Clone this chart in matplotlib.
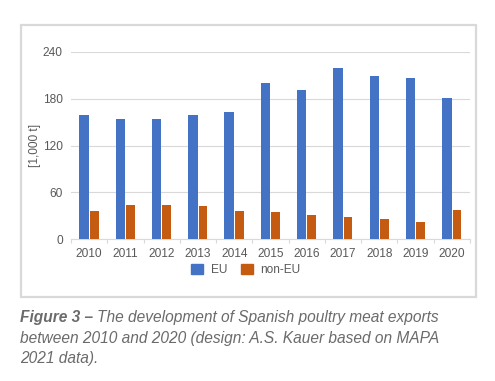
import numpy as np
import matplotlib
matplotlib.use("Agg")
import matplotlib.pyplot as plt
from matplotlib.patches import Rectangle, Patch

plt.rcParams['font.family'] = ['Liberation Sans', 'DejaVu Sans']

# data (1,000 t)
years = ['2010', '2011', '2012', '2013', '2014', '2015', '2016', '2017', '2018', '2019', '2020']
eu = [159, 154, 154, 159, 163, 200, 191, 219, 209, 206, 181]
non_eu = [36, 44, 44, 43, 36, 35, 31, 29, 26, 22, 38]
yticks = [0, 60, 120, 180, 240]

W, H = 495, 381
fig = plt.figure(figsize=(W / 100, H / 100), dpi=100)
fig.patch.set_facecolor('white')

# outer chart frame
frame = Rectangle((21 / W, 1 - 297 / H), (476 - 21) / W, (297 - 25) / H,
                  transform=fig.transFigure, facecolor='none',
                  edgecolor='#d9d9d9', linewidth=1.6, zorder=-1)
fig.patches.append(frame)

ax = fig.add_axes([71 / W, 1 - 239.3 / H, (470 - 71) / W, (239.3 - 51.7) / H])
ax.set_facecolor('none')
ax.set_zorder(2)

x = np.arange(len(years))
ax.bar(x - 0.14, eu, width=0.26, color='#4472C4', label='EU', zorder=3)
ax.bar(x + 0.14, non_eu, width=0.24, color='#C55A11', label='non-EU', zorder=3)

ax.set_xlim(-0.5, len(years) - 0.5)
ax.set_ylim(0, 240)
ax.set_yticks(yticks)
ax.set_yticklabels([str(v) for v in yticks], fontsize=8.6, color='#595959')
ax.set_xticks(x)
ax.set_xticklabels(years, fontsize=8.6, color='#595959')
ax.tick_params(axis='y', length=0, pad=6)
ax.tick_params(axis='x', length=0, pad=6)
# category boundary ticks
ax.set_xticks(np.arange(-0.5, len(years)), minor=True)
ax.tick_params(axis='x', which='minor', length=3, color='#d9d9d9', width=0.8)

ax.grid(axis='y', color='#d9d9d9', linewidth=0.8, zorder=0)
for s in ['top', 'right', 'left']:
    ax.spines[s].set_visible(False)
ax.spines['bottom'].set_color('#d9d9d9')
ax.spines['bottom'].set_linewidth(0.8)

ax.set_ylabel('[1,000 t]', fontsize=8.6, color='#595959', labelpad=1)

handles = [Patch(color='#4472C4', label='EU'), Patch(color='#C55A11', label='non-EU')]
fig.legend(handles=handles, loc='center', bbox_to_anchor=(246 / W, 1 - 270 / H),
           ncol=2, frameon=False, fontsize=8.6, labelcolor='#595959',
           handlelength=1.0, handleheight=1.0, columnspacing=1.2, handletextpad=0.6)

# caption
cap_color = '#6b6b6b'
cap_size = 11.2
fig.canvas.draw()
r = fig.canvas.get_renderer()
t1 = fig.text(20 / W, 1 - 322 / H, 'Figure 3 \u2013', fontsize=cap_size, style='italic',
              weight='bold', color=cap_color, va='baseline')
bb = t1.get_window_extent(renderer=r)
fig.text(bb.x1 / W + 4 / W, 1 - 322 / H,
         'The development of Spanish poultry meat exports',
         fontsize=cap_size, style='italic', color=cap_color, va='baseline')
fig.text(20 / W, 1 - 343 / H,
         'between 2010 and 2020 (design: A.S. Kauer based on MAPA',
         fontsize=cap_size, style='italic', color=cap_color, va='baseline')
fig.text(20 / W, 1 - 363 / H, '2021 data).',
         fontsize=cap_size, style='italic', color=cap_color, va='baseline')

fig.savefig('out.png', dpi=100)
